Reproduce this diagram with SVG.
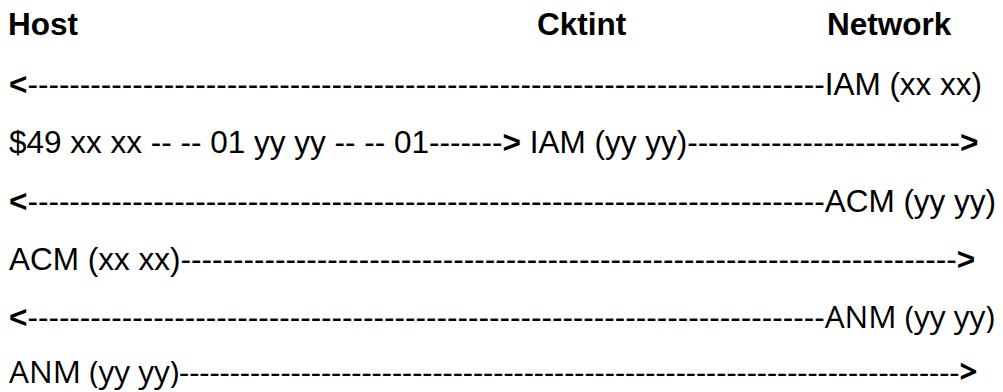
<svg xmlns="http://www.w3.org/2000/svg" width="1003" height="392" viewBox="0 0 1003 392">
<style>
text{font-family:"Liberation Sans",Arial,sans-serif;font-size:31.5px;fill:#000;white-space:pre}
.h{font-weight:bold}
.b{font-weight:bold}
.o{font-family:"Open Sans","Liberation Sans",sans-serif}
</style>
<rect width="1003" height="392" fill="#fff"/>
<g id="host"><text class="h" x="8" y="35">Host</text></g>
<g id="cktint"><text class="h" x="537" y="35">Cktint</text></g>
<g id="network"><text class="h" x="827" y="35">Network</text></g>
<g id="messages">
<text x="9" y="95"><tspan class="b">&lt;</tspan>----------------------------------------------------------------------------IAM (xx xx)</text>
<text x="9" y="153">$49 xx xx -- -- 01 yy yy -- -- 01-------<tspan class="b">&gt;</tspan> IAM (yy yy)--------------------------<tspan class="b">&gt;</tspan></text>
<text x="9" y="212"><tspan class="b">&lt;</tspan>----------------------------------------------------------------------------ACM (yy yy)</text>
<text x="9" y="270">ACM (xx xx)--------------------------------------------------------------------------<tspan class="b">&gt;</tspan></text>
<text x="9" y="328"><tspan class="b">&lt;</tspan>----------------------------------------------------------------------------<tspan class="o">ANM (yy yy)</tspan></text>
<text class="o" x="9" y="383">ANM (yy yy)-----------------------------------------------------------------------------<tspan class="b">&gt;</tspan></text>
</g>
</svg>
